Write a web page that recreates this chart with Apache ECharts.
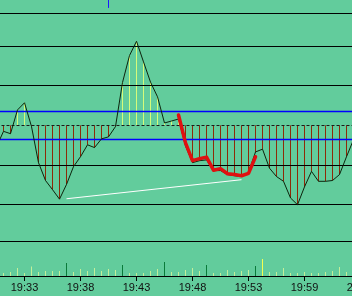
<!DOCTYPE html>
<html><head><meta charset="utf-8">
<script src="https://cdn.jsdelivr.net/npm/echarts@6/dist/echarts.min.js"></script>
<style>html,body{margin:0;padding:0;background:#62cc9c;}#c{width:352px;height:296px;}</style>
</head><body><div id="c"></div>
<script>
// price change (%) per point
const priceChange = [-0.54, -0.15, -0.21, 0.39, 0.57, -0.03, -0.94, -1.39, -1.62, -1.86, -1.49, -1.04, -0.79, -0.49, -0.56, -0.34, -0.29, -0.03, 1.08, 1.76, 2.12, 1.60, 1.09, 0.72, 0.06, 0.11, 0.16, -0.52, -0.94, -0.89, -0.87, -1.14, -1.14, -1.24, -1.27, -1.29, -1.19, -0.67, -0.60, -1.08, -1.29, -1.41, -1.83, -2.00, -1.55, -1.16, -1.41, -1.41, -1.39, -1.24, -0.79, -0.36, null];
// highlighted track segment
const trackStart = 26;
const trackChange = [0.26, -0.44, -0.89, -0.84, -0.80, -1.13, -1.09, -1.22, -1.24, -1.27, -1.21, -0.79];
// trend line endpoints
const trendIdx = [10, 35];
const trendVal = [-1.85, -1.37];
// volume per point
const volume = [null, 3, 4, 8, 3, 9.5, 4, 5, 5, 5, 13, 4, 7, 5, 8, 5, 7, 6, 11, 3, 3, 3, 5, 7, 14, 4, 4, 6, 8, 5, 11, 3, 3, 6, 4, 5, 6, 10, 17, 4, 4, 8, 3, 3, 4, 3, 3, 4, 5, 9, 4, null, null];
// tick labels
const timeLabels = ['19:33', '19:38', '19:43', '19:48', '19:53', '19:59', '20:04'];
const labelSlots = [4, 12, 20, 28, 36, 44, 52];
// reference levels
const gridLevels = [2.82, 2, 1, -1, -2, -2.93];
const limitLevels = [0.36, -0.35];
const baseLevel = 0;
const markerIdx = 16;
const markerRange = [3.16, 2.96];

const categories = priceChange.map((_, i) => String(i));
const trackData = categories.map((_, i) => {
  const j = i - trackStart;
  return (j >= 0 && j < trackChange.length) ? trackChange[j] : null;
});
const trendData = categories.map((_, i) => {
  const j = trendIdx.indexOf(i);
  return j >= 0 ? trendVal[j] : null;
});
const showLabel = (idx) => labelSlots.indexOf(idx) >= 0;

// horizontal level lines drawn through the y scale
function levelSeries(levels, color, width, dash, z) {
  return {
    type: 'custom', xAxisIndex: 0, yAxisIndex: 0, z: z, silent: true, clip: false,
    data: levels.map(v => [0, v]),
    encode: {x: 0, y: 1},
    renderItem: (params, api) => {
      const cs = params.coordSys;
      const y = Math.round(api.coord([0, api.value(1)])[1] - 0.5) + 0.5;
      return {type: 'line', shape: {x1: cs.x, y1: y, x2: cs.x + cs.width, y2: y},
        style: {stroke: color, lineWidth: width, lineDash: dash}};
    }
  };
}

const chart = echarts.init(document.getElementById('c'), null, {renderer: 'canvas'});
const markerLine = [[{coord: [categories[markerIdx], markerRange[0]]}, {coord: [categories[markerIdx], markerRange[1]]}]];

chart.setOption({
  animation: false,
  backgroundColor: '#62cc9c',
  grid: [
    {left: -3.5, width: 364, top: 0, height: 242, containLabel: false, outerBoundsMode: 'none'},
    {left: -3.5, width: 364, top: 243, height: 33, containLabel: false, outerBoundsMode: 'none'}
  ],
  xAxis: [
    {type: 'category', gridIndex: 0, data: categories, boundaryGap: false, show: false},
    {type: 'category', gridIndex: 1, data: categories, boundaryGap: false,
      axisLine: {lineStyle: {color: '#000', width: 1}},
      axisTick: {show: true, interval: showLabel, length: 5, lineStyle: {color: '#000'}},
      axisLabel: {interval: showLabel, formatter: (v, idx) => timeLabels[labelSlots.indexOf(idx)] || '',
        color: '#111', fontSize: 11, fontFamily: 'Liberation Sans, Arial, sans-serif', margin: 6, hideOverlap: false},
      splitLine: {show: false}}
  ],
  yAxis: [
    {type: 'value', gridIndex: 0, min: -2.94, max: 3.16, show: false, splitLine: {show: false}},
    {type: 'value', gridIndex: 1, min: 0, max: 33, show: false, splitLine: {show: false}}
  ],
  series: [
    {
      type: 'custom', xAxisIndex: 0, yAxisIndex: 0, z: 1, clip: false, silent: true,
      data: priceChange.map((v, i) => [i, v]),
      encode: {x: 0, y: 1},
      renderItem: (params, api) => {
        const v = api.value(1);
        if (v === null || v === undefined || isNaN(v)) return;
        const x = api.value(0);
        const p0 = api.coord([x, baseLevel]);
        const p1 = api.coord([x, v]);
        const px = Math.round(p0[0] - 0.5) + 0.5;
        return {type: 'line', shape: {x1: px, y1: p0[1], x2: px, y2: p1[1]},
          style: {stroke: v >= 0 ? '#d6fb7a' : '#8e2a08', lineWidth: 1}};
      }
    },
    levelSeries(gridLevels, '#000000', 1, null, 2),
    levelSeries(limitLevels, '#0000ff', 1.5, null, 2),
    levelSeries([baseLevel], '#1a1a1a', 1, [3, 2], 2),
    {
      type: 'line', xAxisIndex: 0, yAxisIndex: 0, z: 3, data: priceChange,
      symbol: 'none', lineStyle: {color: '#0c240c', width: 1}, silent: true
    },
    {
      type: 'line', xAxisIndex: 0, yAxisIndex: 0, z: 4, data: trendData, connectNulls: true,
      symbol: 'none', lineStyle: {color: '#ffffff', width: 1}, silent: true,
      markLine: {silent: true, symbol: ['none', 'none'], label: {show: false}, animation: false,
        lineStyle: {color: '#1a1aff', width: 1, type: 'solid'}, data: markerLine}
    },
    {
      type: 'line', xAxisIndex: 0, yAxisIndex: 0, z: 5, data: trackData,
      symbol: 'none', lineStyle: {color: '#e01010', width: 3.5, cap: 'round', join: 'round'}, silent: true
    },
    {
      type: 'bar', xAxisIndex: 1, yAxisIndex: 1, data: volume, barWidth: 1, silent: true,
      itemStyle: {color: (p) => p.value >= 16 ? '#f4ff50' : (p.value >= 10 ? '#0a7a3a' : '#c4ee9a')}
    }
  ]
});
</script>
</body></html>
